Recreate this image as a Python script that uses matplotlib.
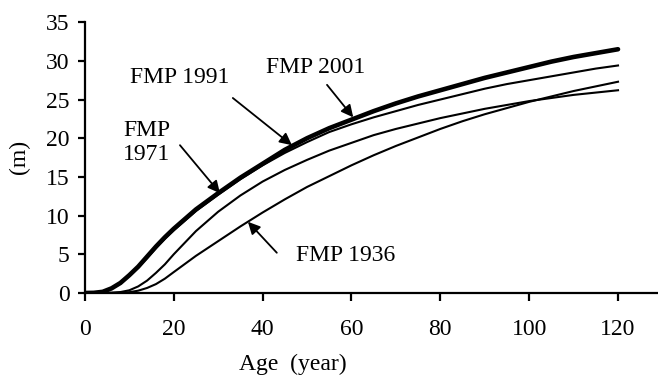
import numpy as np
import matplotlib
matplotlib.use('Agg')
import matplotlib.pyplot as plt

plt.rcParams['font.family'] = ['Liberation Serif', 'DejaVu Serif']

# tree height (m) against age, one list per management plan
age = [0, 2, 4, 6, 8, 10, 12, 14, 16, 18, 20, 25, 30, 35, 40, 45, 50, 55, 60,
       65, 70, 75, 80, 85, 90, 95, 100, 105, 110, 115, 120]
fmp_2001 = [0, 0.02, 0.15, 0.6, 1.3, 2.3, 3.4, 4.7, 6.0, 7.2, 8.3, 10.8, 12.9,
            14.9, 16.7, 18.5, 20.0, 21.3, 22.4, 23.5, 24.5, 25.4, 26.2, 27.0,
            27.8, 28.5, 29.2, 29.9, 30.5, 31.0, 31.5]
fmp_1991 = [0, 0.02, 0.14, 0.55, 1.2, 2.2, 3.3, 4.5, 5.8, 7.0, 8.1, 10.6, 12.7,
            14.7, 16.5, 18.1, 19.5, 20.8, 21.8, 22.7, 23.5, 24.3, 25.0, 25.7,
            26.4, 27.0, 27.5, 28.0, 28.5, 29.0, 29.4]
fmp_1971 = [0, 0, 0.01, 0.04, 0.12, 0.35, 0.85, 1.6, 2.6, 3.7, 5.0, 8.0, 10.5,
            12.6, 14.4, 15.9, 17.2, 18.4, 19.4, 20.4, 21.2, 21.9, 22.6, 23.2,
            23.8, 24.3, 24.8, 25.2, 25.6, 25.9, 26.2]
fmp_1936 = [0, 0, 0, 0.01, 0.04, 0.1, 0.3, 0.65, 1.15, 1.85, 2.7, 4.8, 6.7,
            8.6, 10.4, 12.1, 13.7, 15.1, 16.5, 17.8, 19.0, 20.1, 21.2, 22.2,
            23.1, 23.9, 24.7, 25.4, 26.1, 26.7, 27.3]

x_ticks = [0, 20, 40, 60, 80, 100, 120]
y_ticks = [0, 5, 10, 15, 20, 25, 30, 35]

fig = plt.figure(figsize=(6.58, 3.82), dpi=100)
ax = fig.add_axes([0.129, 0.233, 0.871, 0.709])

ax.plot(age, fmp_1936, color='black', lw=1.5)
ax.plot(age, fmp_1971, color='black', lw=1.5)
ax.plot(age, fmp_1991, color='black', lw=1.5)
ax.plot(age, fmp_2001, color='black', lw=3.3, solid_capstyle='round')

ax.set_xlim(0, 129)
ax.set_ylim(0, 35)
ax.set_xticks(x_ticks)
ax.set_yticks(y_ticks)

for side in ['top', 'right']:
    ax.spines[side].set_visible(False)
for side in ['left', 'bottom']:
    ax.spines[side].set_linewidth(1.6)

fs = 17
ax.tick_params(axis='y', direction='out', length=5, width=1.6, labelsize=fs, pad=6)
ax.tick_params(axis='x', direction='out', length=6, width=1.6, labelsize=fs, pad=13)

# labels, then arrows pointing at each curve
arrow = dict(arrowstyle='-|>', color='black', lw=1.3, mutation_scale=18,
             shrinkA=0, shrinkB=0)
ax.text(21.4, 27.8, 'FMP 1991', fontsize=fs, ha='center', va='center')
ax.annotate('', xy=(46.6, 19.1), xytext=(33.3, 25.2), arrowprops=arrow)
ax.text(52.0, 29.1, 'FMP 2001', fontsize=fs, ha='center', va='center')
ax.annotate('', xy=(60.4, 22.7), xytext=(54.5, 26.9), arrowprops=arrow)
ax.text(8.6, 19.4, 'FMP\n1971', fontsize=fs, ha='left', va='center',
        linespacing=1.2)
ax.annotate('', xy=(30.4, 12.9), xytext=(21.4, 19.1), arrowprops=arrow)
ax.text(58.8, 4.9, 'FMP 1936', fontsize=fs, ha='center', va='center')
ax.annotate('', xy=(36.7, 9.2), xytext=(43.2, 5.2), arrowprops=arrow)

fig.text(0.445, 0.045, 'Age  (year)', fontsize=fs, ha='center', va='center')
fig.text(0.030, 0.589, '(m)', fontsize=fs, ha='center', va='center', rotation=90)

fig.savefig('out.png', dpi=100)
